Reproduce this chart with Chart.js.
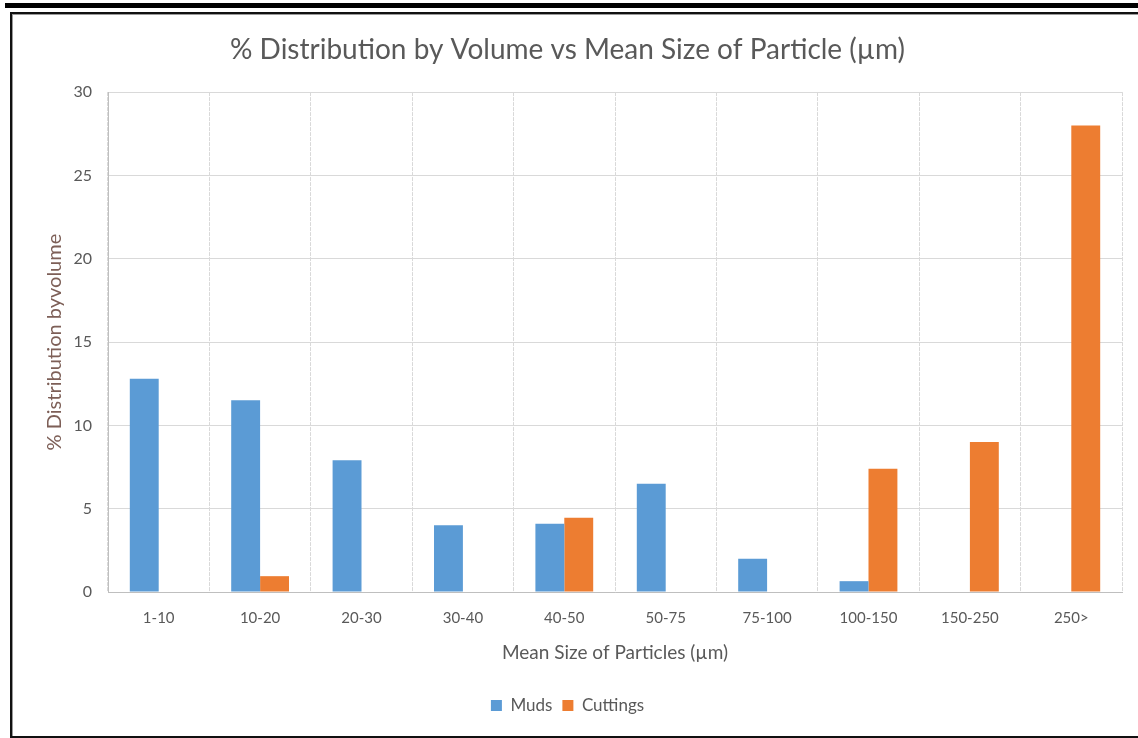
<!DOCTYPE html>
<html>
<head>
<meta charset="utf-8">
<script src="https://cdn.jsdelivr.net/npm/chart.js@4/dist/chart.umd.min.js"></script>
<style>
  html, body { margin: 0; padding: 0; background: #ffffff; }
  body { width: 1138px; height: 738px; position: relative; overflow: hidden; }
  #topRule { position: absolute; left: 5px; top: 3px; width: 1133px; height: 5px; background: #000; }
  #frame {
    position: absolute; left: 10px; top: 12px; width: 1140px; height: 722px;
    border-left: 2px solid #111; border-top: 2px solid #111; border-bottom: 2px solid #111;
    box-shadow: inset 0 1px 0 #9a9a9a, inset 1px 0 0 #9a9a9a;
  }
  #wrap { position: absolute; left: 13px; top: 14px; width: 1125px; height: 721px; }
</style>
</head>
<body>
<div id="topRule"></div>
<div id="frame"></div>
<div id="wrap"><canvas id="chart"></canvas></div>
<script>
// Particle size bins (µm)
const categories = ['1-10', '10-20', '20-30', '30-40', '40-50', '50-75', '75-100', '100-150', '150-250', '250>'];
// % distribution by volume for each bin
const mudsValues = [12.8, 11.5, 7.9, 4.0, 4.1, 6.5, 2.0, 0.65, 0, 0];
const cuttingsValues = [0, 0.95, 0, 0, 4.45, 0, 0, 7.4, 9.0, 28.0];
const yTicks = [0, 5, 10, 15, 20, 25, 30];

const FONT = 'Lato, "Open Sans", sans-serif';
const TEXT = '#595959';

new Chart(document.getElementById('chart'), {
  type: 'bar',
  data: {
    labels: categories,
    datasets: [
      { label: 'Muds', data: mudsValues, backgroundColor: '#5B9BD5', borderWidth: 0 },
      { label: 'Cuttings', data: cuttingsValues, backgroundColor: '#ED7D31', borderWidth: 0 }
    ]
  },
  options: {
    responsive: true,
    maintainAspectRatio: false,
    animation: false,
    datasets: { bar: { barPercentage: 1.0, categoryPercentage: 0.57 } },
    layout: { padding: { left: 0, right: 16, top: 0, bottom: 11 } },
    plugins: {
      title: {
        display: true,
        text: '% Distribution by Volume vs Mean Size of Particle (µm)',
        color: TEXT,
        font: { family: FONT, size: 28, weight: 'normal' },
        padding: { top: 19.5, bottom: 25 }
      },
      legend: {
        position: 'bottom',
        labels: {
          color: TEXT,
          font: { family: FONT, size: 17 },
          boxWidth: 11,
          boxHeight: 11,
          padding: 10
        }
      },
      tooltip: { enabled: false }
    },
    scales: {
      x: {
        grid: { color: '#d9d9d9', lineWidth: 1, drawTicks: false, offset: true },
        border: { display: true, color: '#bfbfbf', width: 1, dash: [4, 1] },
        ticks: { color: TEXT, font: { family: FONT, size: 15 }, padding: 17, maxRotation: 0 },
        title: {
          display: true,
          text: 'Mean Size of Particles (µm)',
          color: TEXT,
          font: { family: FONT, size: 19 },
          padding: { top: 12, bottom: 22.6 }
        },
        afterFit: (s) => { s.height = 95; }
      },
      y: {
        min: 0,
        max: 30,
        afterBuildTicks: (s) => { s.ticks = yTicks.map(v => ({ value: v })); },
        grid: { color: '#d9d9d9', lineWidth: 1, drawTicks: false },
        border: { display: true, color: '#bfbfbf', width: 1 },
        ticks: { color: TEXT, font: { family: FONT, size: 16 }, padding: 16 },
        title: {
          display: true,
          text: '% Distribution byvolume',
          color: '#7d5f57',
          font: { family: FONT, size: 20 },
          padding: { top: 30, bottom: 0 }
        },
        afterFit: (s) => { s.width = 95; }
      }
    }
  }
});
</script>
</body>
</html>
